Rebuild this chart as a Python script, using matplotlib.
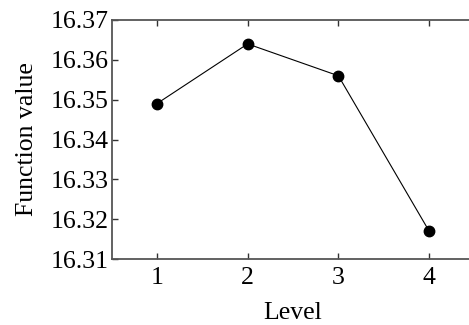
import matplotlib
matplotlib.use("Agg")
import matplotlib.pyplot as plt

levels = [1, 2, 3, 4]
values = [16.349, 16.364, 16.356, 16.317]
yticks = [16.31, 16.32, 16.33, 16.34, 16.35, 16.36, 16.37]

plt.rcParams['font.family'] = ['Liberation Serif', 'DejaVu Serif']
plt.rcParams['font.size'] = 18.5

fig = plt.figure(figsize=(4.69, 3.25), dpi=100)
ax = fig.add_axes([111.5 / 469, 66 / 325, 363 / 469, 239 / 325])

ax.plot(levels, values, color="black", linewidth=0.8, marker="o", markersize=7.5)

ax.set_xlim(0.5, 4.5)
ax.set_ylim(16.31, 16.37)
ax.set_xticks(levels)
ax.set_yticks(yticks)
ax.set_yticklabels(["%.2f" % v for v in yticks])
ax.tick_params(direction="in", length=4, width=1, top=True, right=True, colors="#333333", labelcolor="black", pad=2)
ax.tick_params(axis="x", pad=6)
for s in ax.spines.values():
    s.set_color("#555555")
    s.set_linewidth(1.3)

ax.set_xlabel("Level", labelpad=9)
ax.set_ylabel("Function value", labelpad=9)

fig.savefig("out.png", dpi=100)
